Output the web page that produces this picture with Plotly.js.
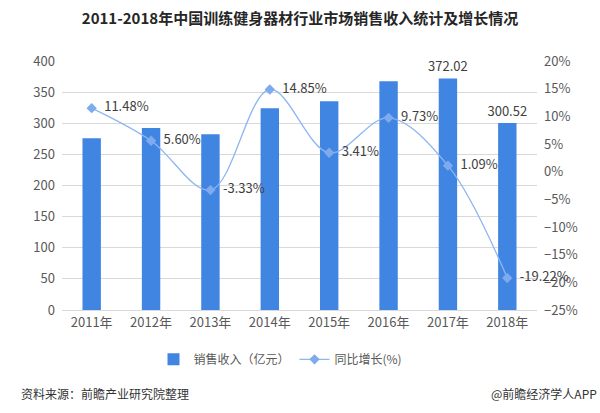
<!DOCTYPE html>
<html>
<head>
<meta charset="utf-8">
<script src="https://cdn.plot.ly/plotly-3.0.1.min.js"></script>
<style>
  html, body { margin: 0; padding: 0; background: #fff; }
  #chart { width: 600px; height: 413px; }
</style>
</head>
<body>
<div id="chart"></div>
<script>
// Sales revenue of China's fitness equipment industry, 2011-2018
const years = ['2011年', '2012年', '2013年', '2014年', '2015年', '2016年', '2017年', '2018年'];
const revenue = [275.8, 292.2, 282.4, 323.9, 335.4, 367.5, 372.02, 300.52];
const revenueLabels = ['', '', '', '', '', '', '372.02', '300.52'];
const growth = [11.48, 5.60, -3.33, 14.85, 3.41, 9.73, 1.09, -19.22];

const font = '"Noto Sans CJK SC", "Noto Sans", sans-serif';
const gray = '#595959';

const bars = {
  type: 'bar',
  name: '销售收入（亿元）',
  x: years,
  y: revenue,
  text: revenueLabels,
  textposition: 'outside',
  constraintext: 'none',
  cliponaxis: false,
  textfont: { family: font, size: 13, color: '#404040' },
  marker: { color: '#4185e2' },
  width: 0.31,
  hoverinfo: 'x+y'
};

const line = {
  type: 'scatter',
  mode: 'lines+markers+text',
  name: '同比增长(%)',
  x: years,
  y: growth,
  yaxis: 'y2',
  text: growth.map(v => '\u2002' + v.toFixed(2) + '%'),
  textposition: 'middle right',
  cliponaxis: false,
  textfont: { family: font, size: 13, color: '#404040' },
  line: { color: '#8db6f2', width: 1.3, shape: 'spline', smoothing: 1 },
  marker: { symbol: 'diamond', size: 8, color: '#7eaaee' }
};

const layout = {
  width: 600,
  height: 413,
  margin: { l: 62, r: 63, t: 61, b: 103 },
  paper_bgcolor: '#ffffff',
  plot_bgcolor: '#ffffff',
  font: { family: font, color: gray, size: 13 },
  title: {
    text: '<b>2011-2018年中国训练健身器材行业市场销售收入统计及增长情况</b>',
    font: { family: font, size: 15, color: '#262626' },
    x: 0.5, xanchor: 'center',
    y: 0.955, yanchor: 'middle'
  },
  xaxis: {
    type: 'category',
    tickfont: { family: font, size: 13, color: gray },
    showgrid: false,
    showline: true,
    linecolor: '#d9d9d9',
    ticks: '',
    fixedrange: true
  },
  yaxis: {
    range: [0, 400],
    dtick: 50,
    tickfont: { family: font, size: 13, color: gray },
    gridcolor: '#d9d9d9',
    zeroline: false,
    ticks: '',
    ticklabelstandoff: 6,
    fixedrange: true
  },
  yaxis2: {
    overlaying: 'y',
    side: 'right',
    range: [-25, 20],
    dtick: 5,
    ticksuffix: '%',
    tickfont: { family: font, size: 13, color: gray },
    showgrid: false,
    zeroline: false,
    ticks: '',
    ticklabelstandoff: 6,
    fixedrange: true
  },
  showlegend: true,
  legend: {
    orientation: 'h',
    x: 0.46, xanchor: 'center',
    y: -0.14, yanchor: 'top',
    font: { family: font, size: 12, color: gray },
    itemwidth: 30,
    tracegroupgap: 0
  },
  annotations: [
    {
      text: '资料来源：前瞻产业研究院整理',
      xref: 'paper', yref: 'paper',
      x: -0.09, xanchor: 'left',
      y: -0.335, yanchor: 'middle',
      showarrow: false,
      font: { family: font, size: 12, color: '#333333' }
    },
    {
      text: '@前瞻经济学人APP',
      xref: 'paper', yref: 'paper',
      x: 1.13, xanchor: 'right',
      y: -0.335, yanchor: 'middle',
      showarrow: false,
      font: { family: font, size: 12, color: '#333333' }
    }
  ]
};

Plotly.newPlot('chart', [bars, line], layout, { displayModeBar: false, staticPlot: true });
</script>
</body>
</html>
